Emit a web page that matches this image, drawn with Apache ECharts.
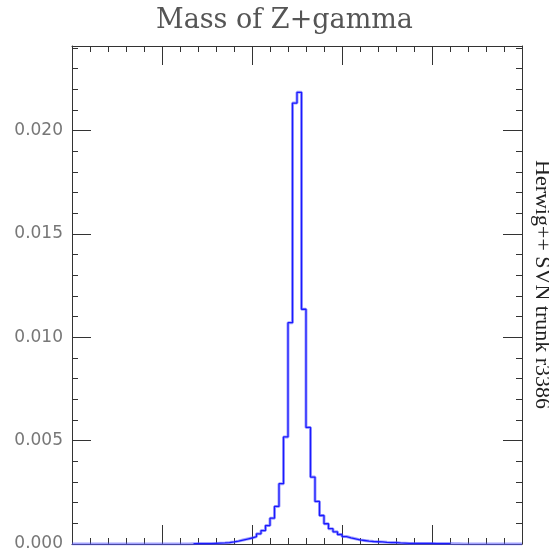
<!DOCTYPE html>
<html>
<head>
<meta charset="utf-8">
<script src="https://cdn.jsdelivr.net/npm/echarts@6/dist/echarts.min.js"></script>
<style>
html,body{margin:0;padding:0;background:#fff;}
#chart{width:549px;height:555px;}
</style>
</head>
<body>
<div id="chart"></div>
<script>
// ---- data ----
const titleText = "Mass of Z+gamma";
const sideText = "Herwig++ SVN trunk r3386";
const xMin = 0;
const xMax = 100;
const binWidth = 1;
const yTicks = [0.000, 0.005, 0.010, 0.015, 0.020];
// histogram bin contents (100 bins)
const binValues = [
  0,0,0,0,0,0,0,0,0,0,
  0,0,0,0,0,0,0,0,0,0,
  0,0,0,0,0,0,0.00001,0.00002,0.00002,0.00002,
  0.00002,0.00003,0.00004,0.00005,0.00007,0.00010,0.00014,0.00019,0.00024,0.00029,
  0.00036,0.00049,0.00065,0.00089,0.00125,0.00182,0.00292,0.00518,0.01071,0.02134,
  0.02186,0.01136,0.00564,0.00324,0.00206,0.00138,0.00098,0.00074,0.00059,0.00046,
  0.00036,0.00030,0.00025,0.00020,0.00017,0.00014,0.00012,0.00011,0.00010,0.00008,
  0.00007,0.00007,0.00005,0.00004,0.00003,0.00003,0.00003,0.00003,0.00003,0.00003,
  0.00002,0.00002,0.00002,0.00002,0.00001,0.00001,0,0,0,0,
  0,0,0,0,0,0,0,0,0,0
];
const yMax = 0.0241;

// ---- build step data ----
function stepData(from, to) {
  const d = [];
  for (let i = from; i <= to; i++) d.push([xMin + i * binWidth, binValues[i]]);
  d.push([xMin + (to + 1) * binWidth, binValues[to]]);
  return d;
}
let first = binValues.findIndex(v => v > 0.000015);
let last = binValues.length - 1;
while (last > 0 && binValues[last] <= 0.000015) last--;

const chart = echarts.init(document.getElementById('chart'), null, {renderer: 'canvas'});

const frameColor = '#333';
function axisBase() {
  return {
    type: 'value',
    axisLine: {show: true, onZero: false, lineStyle: {color: frameColor, width: 1}},
    axisTick: {show: true, inside: true, length: 19, lineStyle: {color: frameColor, width: 1}},
    minorTick: {show: true, splitNumber: 5, length: 6, lineStyle: {color: frameColor, width: 1}},
    splitLine: {show: false},
    minorSplitLine: {show: false}
  };
}

const option = {
  animation: false,
  backgroundColor: '#fff',
  title: {
    text: titleText,
    left: 151,
    top: 2,
    textStyle: {fontFamily: 'DejaVu Serif', fontWeight: 'normal', fontSize: 27, color: '#555'}
  },
  graphic: [{
    type: 'text',
    x: 531,
    y: 160,
    rotation: -Math.PI / 2,
    style: {
      text: sideText,
      fontFamily: 'Liberation Serif',
      fontSize: 22,
      fill: '#222',
      textAlign: 'left',
      textVerticalAlign: 'bottom'
    }
  }],
  grid: {left: 72, right: 27, top: 46, bottom: 11, containLabel: false},
  xAxis: [
    Object.assign(axisBase(), {min: xMin, max: xMax, interval: 20, position: 'bottom',
      axisLabel: {show: false}}),
    Object.assign(axisBase(), {min: xMin, max: xMax, interval: 20, position: 'top',
      axisLabel: {show: false}})
  ],
  yAxis: [
    Object.assign(axisBase(), {min: 0, max: yMax, interval: 0.005, position: 'left',
      axisLabel: {show: true, margin: 9, color: '#777', fontFamily: 'DejaVu Sans', fontSize: 17,
        formatter: v => (yTicks.some(t => Math.abs(t - v) < 1e-9) ? v.toFixed(3) : '')}}),
    Object.assign(axisBase(), {min: 0, max: yMax, interval: 0.005, position: 'right',
      axisLabel: {show: false}})
  ],
  series: [
    {
      type: 'line', step: 'end', showSymbol: false, silent: true,
      data: stepData(0, binValues.length - 1),
      lineStyle: {color: 'rgba(90,90,255,0.55)', width: 3},
      z: 2
    },
    {
      type: 'line', step: 'end', showSymbol: false, silent: true,
      data: stepData(first, last),
      lineStyle: {color: '#1a1aff', width: 1.3},
      z: 3
    }
  ]
};
chart.setOption(option);
</script>
</body>
</html>
